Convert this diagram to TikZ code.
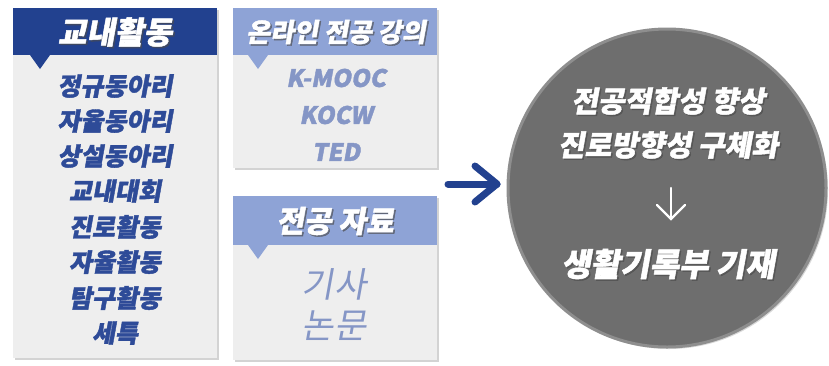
\documentclass[tikz,border=0pt]{standalone}
\usepackage{fontspec}
\usetikzlibrary{shadows,arrows.meta}
\newfontfamily\kr{Noto Sans CJK KR}[FakeSlant=0.18]
\newfontfamily\krh{Noto Sans CJK KR}[FakeSlant=0.18,BoldFeatures={FakeBold=1.6}]
\definecolor{darkblue}{HTML}{22418F}
\definecolor{listblue}{HTML}{2E4B98}
\definecolor{lightblue}{HTML}{8EA3D6}
\definecolor{textlb}{HTML}{8596C6}
\definecolor{bodygray}{HTML}{EEEEEE}
\definecolor{circgray}{HTML}{6E6E6E}
\definecolor{circedge}{HTML}{8E8E8E}
\tikzset{
  panel/.style={fill=bodygray, drop shadow={shadow xshift=2pt, shadow yshift=-2pt, opacity=0.35}},
  headtxt/.style={text=white, font=\krh\bfseries\fontsize{31}{33}\selectfont},
  shtxt/.style={text=black!70, opacity=0.6},
  listtxt/.style={text=listblue, font=\krh\bfseries\fontsize{25}{27}\selectfont},
  onltxt/.style={text=textlb, font=\krh\bfseries\fontsize{24}{26}\selectfont},
  bigtxt/.style={text=textlb, font=\kr\fontsize{35}{37}\selectfont},
  circtxt/.style={text=white, font=\krh\bfseries\fontsize{29}{31}\selectfont},
}
\begin{document}
\begin{tikzpicture}[x=1pt,y=-1pt]
\useasboundingbox (0,0) rectangle (829,365);
% left panel
\path[panel] (13,8) rectangle (217,358);
\fill[darkblue] (13,8) rectangle (217,55);
\fill[darkblue] (30,55) -- (50,55) -- (40,69) -- cycle;
\node[headtxt, shtxt] (h1s) at (116.5,33.5) {교내활동};
\node[headtxt] (h1) at (115,32) {교내활동};
\node[listtxt] (l1) at (115,86) {정규동아리};
\node[listtxt] (l2) at (115,121) {자율동아리};
\node[listtxt] (l3) at (115,156) {상설동아리};
\node[listtxt] (l4) at (115,191) {교내대회};
\node[listtxt] (l5) at (115,227) {진로활동};
\node[listtxt] (l6) at (115,262) {자율활동};
\node[listtxt] (l7) at (115,298) {탐구활동};
\node[listtxt] (l8) at (115,333) {세특};
% top middle panel
\path[panel] (233,8) rectangle (437,168);
\fill[lightblue] (233,8) rectangle (437,55);
\fill[lightblue] (248,55) -- (268,55) -- (258,69) -- cycle;
\node[headtxt, shtxt, font=\krh\bfseries\fontsize{26}{28}\selectfont] (h2s) at (337.5,33.5) {온라인 전공 강의};
\node[headtxt, font=\krh\bfseries\fontsize{26}{28}\selectfont] (h2) at (336,32) {온라인 전공 강의};
\node[onltxt] (o1) at (336,78) {K-MOOC};
\node[onltxt] (o2) at (336,115) {KOCW};
\node[onltxt] (o3) at (336,152) {TED};
% bottom middle panel
\path[panel] (233,196) rectangle (437,360);
\fill[lightblue] (233,196) rectangle (437,245);
\fill[lightblue] (248,245) -- (268,245) -- (258,259) -- cycle;
\node[headtxt, shtxt, font=\krh\bfseries\fontsize{30}{32}\selectfont] (h3s) at (336.5,222.5) {전공 자료};
\node[headtxt, font=\krh\bfseries\fontsize{30}{32}\selectfont] (h3) at (335,221) {전공 자료};
\node[bigtxt] (b1) at (334,284) {기사};
\node[bigtxt] (b2) at (334,326) {논문};
% circle
\node[circle, minimum size=318pt, fill=circgray, draw=circedge, line width=3pt, inner sep=0pt,
  drop shadow={shadow xshift=2pt, shadow yshift=-2pt, opacity=0.3}] (c) at (667,188) {};
% blue arrow
\coordinate (a1) at (448,184);
\coordinate (a2) at (497,184);
\coordinate (ah1) at (475,166);
\coordinate (ah2) at (475,202);
\draw[darkblue, line width=7pt, line cap=round, line join=round] (a1) -- (a2);
\draw[darkblue, line width=7pt, line cap=round, line join=round] (ah1) -- (a2) -- (ah2);
% texts in circle
\node[circtxt, shtxt] (t1s) at (669.5,102.5) {전공적합성 향상};
\node[circtxt] (t1) at (668,101) {전공적합성 향상};
\node[circtxt, shtxt] (t2s) at (669.5,146.5) {진로방향성 구체화};
\node[circtxt] (t2) at (668,145) {진로방향성 구체화};
% down arrow
\coordinate (d1) at (671,188);
\coordinate (d2) at (671,219);
\coordinate (dh1) at (657,205);
\coordinate (dh2) at (685,205);
\draw[white, line width=2.4pt, line cap=round, line join=miter] (d1) -- (d2);
\draw[white, line width=2.4pt, line cap=round, line join=miter] (dh1) -- (d2) -- (dh2);
\node[circtxt, shtxt, font=\krh\bfseries\fontsize{32}{34}\selectfont] (t4s) at (669.5,265.5) {생활기록부 기재};
\node[circtxt, font=\krh\bfseries\fontsize{32}{34}\selectfont] (t4) at (668,264) {생활기록부 기재};
\end{tikzpicture}
\end{document}
